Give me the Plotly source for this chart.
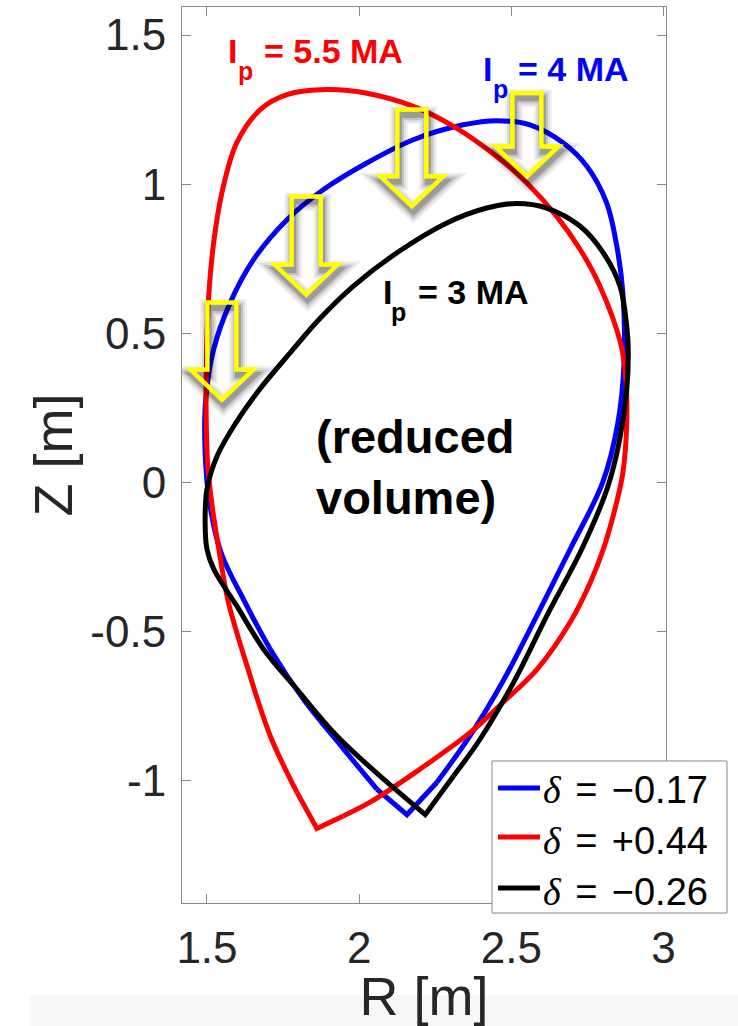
import plotly.graph_objects as go

# Plasma boundary shapes (R, Z in metres). Each loop starts and ends at its
# X-point: out along the outboard leg, over the top, back down the inboard leg.
r_delta_m017 = [2.157, 2.255, 2.364, 2.47, 2.583, 2.693, 2.80, 2.85, 2.870, 2.866, 2.845,
                2.813, 2.748, 2.671, 2.561, 2.452, 2.342, 2.178, 2.025, 1.883, 1.763,
                1.653, 1.576, 1.522, 1.496, 1.494, 1.510, 1.548, 1.62, 1.708, 1.817,
                1.949, 2.058, 2.157]
z_delta_m017 = [-1.114, -1.006, -0.850, -0.671, -0.448, -0.224, 0.0, 0.2, 0.40, 0.64, 0.80,
                0.937, 1.060, 1.138, 1.199, 1.213, 1.199, 1.149, 1.071, 0.982, 0.881,
                0.747, 0.602, 0.446, 0.28, 0.10, -0.08, -0.24, -0.392, -0.559, -0.727,
                -0.894, -1.028, -1.114]

r_delta_p044 = [1.861, 1.948, 2.036, 2.20, 2.365, 2.473, 2.585, 2.693, 2.759, 2.802, 2.84,
                2.866, 2.879, 2.875, 2.858, 2.791, 2.726, 2.649, 2.551, 2.452, 2.31,
                2.178, 2.025, 1.894, 1.763, 1.675, 1.598, 1.549, 1.522, 1.505, 1.499,
                1.497, 1.503, 1.520, 1.540, 1.57, 1.632, 1.708, 1.796, 1.861]
z_delta_p044 = [-1.160, -1.118, -1.072, -0.961, -0.838, -0.737, -0.626, -0.469, -0.336, -0.224, -0.09,
                0.03, 0.20, 0.36, 0.47, 0.658, 0.781, 0.892, 1.004, 1.093, 1.194,
                1.261, 1.305, 1.317, 1.300, 1.250, 1.139, 0.971, 0.804, 0.613, 0.44,
                0.26, 0.05, -0.10, -0.23, -0.40, -0.616, -0.85, -1.04, -1.160]

r_delta_m026 = [2.217, 2.31, 2.397, 2.507, 2.616, 2.731, 2.815, 2.855, 2.879, 2.884, 2.879,
                2.857, 2.802, 2.726, 2.616, 2.518, 2.419, 2.288, 2.124, 1.981, 1.868,
                1.778, 1.672, 1.595, 1.533, 1.50, 1.494, 1.50, 1.522, 1.598, 1.686,
                1.795, 1.927, 2.12, 2.217]
z_delta_m026 = [-1.114, -0.984, -0.861, -0.671, -0.448, -0.224, -0.02, 0.14, 0.311, 0.446, 0.524,
                0.658, 0.770, 0.859, 0.920, 0.935, 0.920, 0.870, 0.770, 0.658, 0.546,
                0.44, 0.311, 0.200, 0.088, -0.023, -0.135, -0.224, -0.29, -0.414, -0.559,
                -0.693, -0.850, -1.03, -1.114]

series_names = ["\u22120.17", "+0.44", "\u22120.26"]
series_colors = ["#0000FF", "#FF0000", "#000000"]

# Downward "shrink" arrows: centre R, top of shaft Z, tip Z
arrow_r = [1.549, 1.826, 2.173, 2.551]
arrow_top = [0.603, 0.959, 1.250, 1.306]
arrow_tip = [0.278, 0.630, 0.926, 1.026]

x_ticks = [1.5, 2, 2.5, 3]
y_ticks = [-1, -0.5, 0, 0.5, 1, 1.5]

FONT = "Liberation Sans, Arial, Helvetica, sans-serif"
TXT = "#262626"
AXC = "#8a8a8a"

fig = go.Figure()
for r, z, name, col in zip([r_delta_m017, r_delta_p044, r_delta_m026],
                           [z_delta_m017, z_delta_p044, z_delta_m026],
                           series_names, series_colors):
    # smooth body of the boundary
    fig.add_trace(go.Scatter(
        x=r[1:-1], y=z[1:-1], mode="lines", name="δ = " + name, legendgroup=name,
        line=dict(color=col, width=5, shape="spline", smoothing=1.0),
        hoverinfo="skip", showlegend=False,
    ))
    # sharp X-point corner
    fig.add_trace(go.Scatter(
        x=[r[-2], r[0], r[1]], y=[z[-2], z[0], z[1]], mode="lines", legendgroup=name,
        line=dict(color=col, width=5), hoverinfo="skip", showlegend=False,
    ))

# Arrow outlines with a soft drop shadow
shaft_hw = 0.0476
head_hw = 0.1034
head_h = 0.1005
shapes = []


def arrow_path(c, top, tip, dx=0.0, dy=0.0):
    ht = tip + head_h
    pts = [(c - shaft_hw, top), (c + shaft_hw, top), (c + shaft_hw, ht), (c + head_hw, ht),
           (c, tip), (c - head_hw, ht), (c - shaft_hw, ht)]
    return "M " + " L ".join(f"{x + dx:.4f},{y + dy:.4f}" for x, y in pts) + " Z"


for c, top, tip in zip(arrow_r, arrow_top, arrow_tip):
    for w, a in [(18, 0.06), (14, 0.08), (10, 0.12), (6, 0.2)]:
        shapes.append(dict(type="path", xref="x", yref="y", layer="above",
                           path=arrow_path(c, top, tip, 0.005, -0.018),
                           line=dict(color=f"rgba(0,0,0,{a})", width=w)))
    shapes.append(dict(type="path", xref="x", yref="y", layer="above",
                       path=arrow_path(c, top, tip),
                       line=dict(color="#FFFF00", width=4.5)))

# faint grey band along the bottom edge
shapes.append(dict(type="rect", xref="paper", yref="paper", layer="below",
                   x0=-0.314, x1=1.2, y0=-0.1027, y1=-0.2,
                   fillcolor="#f7f7f7", line=dict(width=0)))

# Legend box (paper coordinates) with one sample line per boundary
leg_x0, leg_x1, leg_y0, leg_y1 = 0.6405, 1.126, -0.0112, 0.1585
leg_line_x = [0.6529, 0.7397]
leg_line_y = [0.1283, 0.0737, 0.0167]
leg_text_x = 0.7438
leg_text_y = [0.1317, 0.0748, 0.0179]
shapes.append(dict(type="rect", xref="paper", yref="paper", layer="above",
                   x0=leg_x0, x1=leg_x1, y0=leg_y0, y1=leg_y1,
                   fillcolor="white", line=dict(color=AXC, width=1)))
for ly, col in zip(leg_line_y, series_colors):
    shapes.append(dict(type="line", xref="paper", yref="paper", layer="above",
                       x0=leg_line_x[0], x1=leg_line_x[1], y0=ly, y1=ly,
                       line=dict(color=col, width=5)))

delta = "<span style=\"font-family:'Liberation Serif',serif;font-style:italic\">δ</span>"
gap = "<span style='font-size:52px'> </span>"
annotations = []
for ty, name in zip(leg_text_y, series_names):
    annotations.append(dict(text=f"{delta}{gap}={gap}{name}", xref="paper", yref="paper",
                            x=leg_text_x, y=ty, xanchor="left", yanchor="middle",
                            showarrow=False, borderpad=0,
                            font=dict(family=FONT, size=38, color="#000000")))

# "I_p = ... MA" labels: main letter, subscript p, and the value
label_specs = [
    # colour, R of I, Z top of I, R of p, Z top of p, R of value, value
    ("#FF0000", 1.5653, 1.512, 1.5995, 1.4305, 1.6855, "= 5.5 MA"),
    ("#0000FF", 2.4022, 1.452, 2.4366, 1.370, 2.5171, "= 4 MA"),
    ("#000000", 2.0739, 0.704, 2.1018, 0.622, 2.1888, "= 3 MA"),
]
for col, xi, yi, xp, yp, xv, val in label_specs:
    for txt, xx, yy, sz in [("I", xi, yi, 34), ("p", xp, yp, 25), (val, xv, yi, 34)]:
        annotations.append(dict(text=f"<b>{txt}</b>", x=xx, y=yy, xref="x", yref="y",
                                xanchor="left", yanchor="top", showarrow=False,
                                borderpad=0, font=dict(family=FONT, size=sz, color=col)))

annotations.append(dict(text="<b>(reduced<br>volume)</b>", x=1.856, y=0.245,
                        xref="x", yref="y", xanchor="left", yanchor="top", align="left",
                        showarrow=False, borderpad=0,
                        font=dict(family=FONT, size=47, color="#000000")))

axis_common = dict(
    showline=True, mirror="ticks", linecolor=AXC, linewidth=1,
    ticks="inside", ticklen=9, tickcolor=AXC, tickwidth=1,
    showgrid=False, zeroline=False,
    tickfont=dict(family=FONT, size=44, color=TXT),
)

fig.update_layout(
    width=738, height=1026,
    margin=dict(l=182, r=72, t=7, b=123, autoexpand=False),
    paper_bgcolor="white", plot_bgcolor="white",
    xaxis=dict(range=[1.418, 3.008], tickvals=x_ticks, ticktext=[f"{v:g}" for v in x_ticks],
               ticklabelstandoff=6,
               title=dict(text="R [m]", font=dict(family=FONT, size=54, color=TXT), standoff=11),
               **axis_common),
    yaxis=dict(range=[-1.41, 1.594], tickvals=y_ticks, ticktext=[f"{v:g}" for v in y_ticks],
               ticklabelstandoff=6,
               title=dict(text="Z [m]", font=dict(family=FONT, size=54, color=TXT), standoff=0),
               **axis_common),
    shapes=shapes,
    annotations=annotations,
    showlegend=False,
)

fig.write_html("out.html")
